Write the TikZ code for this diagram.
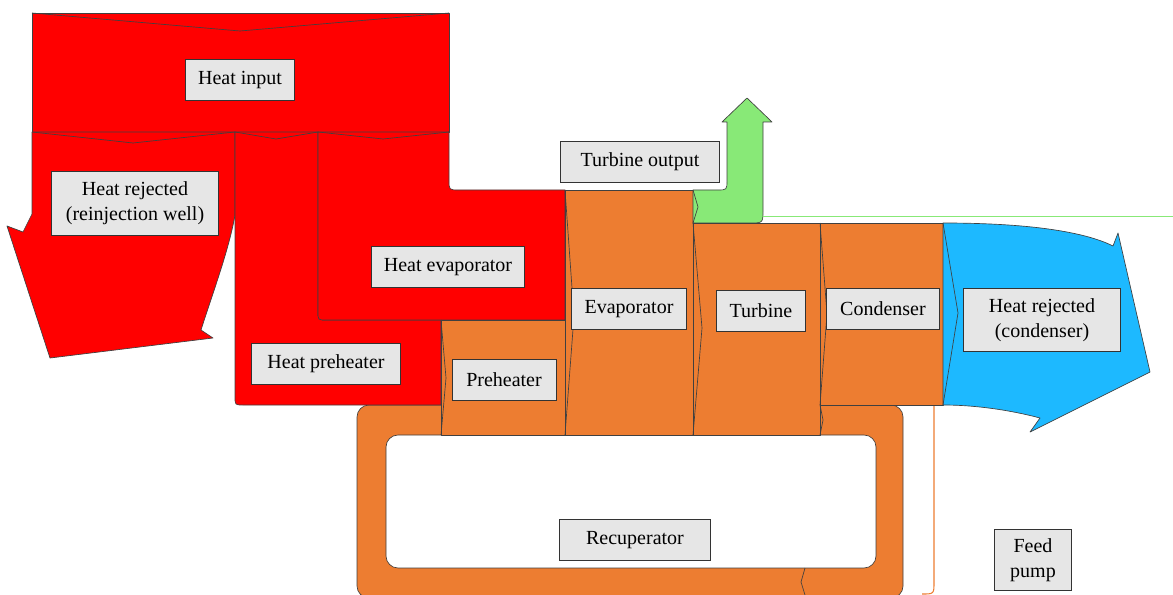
\documentclass[tikz,border=0pt]{standalone}
\usepackage{fontspec}
\setmainfont{Liberation Serif}
\newfontfamily\lblfont{Liberation Serif}
\definecolor{heatred}{HTML}{FF0000}
\definecolor{cycleorange}{HTML}{ED7D31}
\definecolor{workgreen}{HTML}{88E977}
\definecolor{coolblue}{HTML}{1DB9FF}
\definecolor{boxgray}{HTML}{E6E6E6}
\begin{document}
\begin{tikzpicture}[x=0.75pt, y=-0.75pt,
    flow/.style  = {draw=black!75, line width=0.5pt, line join=round},
    heat/.style  = {flow, fill=heatred},
    cyc/.style   = {flow, fill=cycleorange},
    seam/.style  = {draw=black!75, line width=0.5pt, line join=round}
  ]
  \tikzset{lbl/.style={draw=black!80, fill=boxgray, line width=0.6pt, inner sep=2pt,
    minimum height=31pt, align=center, font=\lblfont\fontsize{15}{18.5}\selectfont}}
  \useasboundingbox (0,0) rectangle (1173,595);
  \path[cyc, even odd rule, rounded corners=9pt]
    (357,405) rectangle (903,598)
    (386,435) rectangle (876,568);
  \draw[seam] (805,568) -- (801,582) -- (805,595);
  \draw[heat] (32,13) rectangle (449,132);
  \draw[seam] (32,13) -- (240,31) -- (449,13);
  \draw[heat] (32,132) -- (32,214) -- (23,232) -- (7,226) -- (50,358) -- (213,338)
    -- (201,330) .. controls (212,295) and (229,250) .. (235,215) -- (235,132) -- cycle;
  \draw[seam] (32,132) -- (133,143) -- (235,132);
  \draw[heat] (235,132) -- (235,397) .. controls (235,405) .. (243,405) -- (441,405)
    -- (441,320) -- (326,320) .. controls (318,320) .. (318,312) -- (318,132) -- cycle;
  \draw[seam] (235,132) -- (276,139) -- (318,132);
  \draw[heat] (318,132) -- (318,312) .. controls (318,320) .. (326,320) -- (565,320)
    -- (565,190) -- (459,190) .. controls (449,190) .. (449,180) -- (449,132) -- cycle;
  \draw[seam] (318,132) -- (383,139) -- (449,132);
  \draw[cyc] (441,320) rectangle (565,435);
  \draw[seam] (441,320) -- (446,378) -- (441,435);
  \draw[cyc] (565,190) rectangle (693,435);
  \draw[seam] (565,190) -- (574,316) -- (565,435);
  \draw[cyc] (693,223) rectangle (820,435);
  \draw[seam] (693,223) -- (702,328) -- (693,435);
  \draw[cyc] (820,223) rectangle (943,405);
  \draw[seam] (820,223) -- (827,314) -- (820,405) -- (823,420) -- (820,435);
  \draw[flow, fill=workgreen] (693,190) -- (717,190) .. controls (727,190) .. (727,180)
    -- (727,122) -- (722,122) -- (747,98) -- (772,122) -- (763,122) -- (763,210)
    .. controls (763,223) .. (750,223) -- (693,223) -- cycle;
  \draw[seam] (693,190) -- (698,207) -- (693,223);
  \draw[workgreen, line width=0.6pt] (763,216) -- (1173,216);
  \draw[flow, fill=coolblue] (943,223) .. controls (1030,223) and (1085,232) .. (1113,246)
    -- (1118,233) -- (1150,372) -- (1030,432) -- (1040,418)
    .. controls (1010,410) and (975,405) .. (943,405) -- cycle;
  \draw[seam] (943,223) -- (958,313) -- (943,405);
  \draw[cycleorange, line width=0.8pt] (934,406) -- (934,582) .. controls (934,594) .. (922,594);
  \node[lbl, minimum width=82pt]  (heatin)   at (240,80)  {Heat input};
  \node[lbl, minimum width=125pt, minimum height=48pt] (rejwell) at (135,203)
    {Heat rejected\\(reinjection well)};
  \node[lbl, minimum width=115pt] (heatevap) at (448,267) {Heat evaporator};
  \node[lbl, minimum width=112pt] (heatpre)  at (326,364) {Heat preheater};
  \node[lbl, minimum width=78pt]  (pre)      at (504,380) {Preheater};
  \node[lbl, minimum width=86pt]  (evap)     at (629,309) {Evaporator};
  \node[lbl, minimum width=67pt]  (turb)     at (761,311) {Turbine};
  \node[lbl, minimum width=85pt]  (cond)     at (883,309) {Condenser};
  \node[lbl, minimum width=118pt, minimum height=47pt] (rejcond) at (1042,320)
    {Heat rejected\\(condenser)};
  \node[lbl, minimum width=119pt] (turbout)  at (640,162) {Turbine output};
  \node[lbl, minimum width=113pt] (recup)    at (635,540) {Recuperator};
  \node[lbl, minimum width=58pt, minimum height=46pt] (pump) at (1033,560) {Feed\\pump};
\end{tikzpicture}
\end{document}
